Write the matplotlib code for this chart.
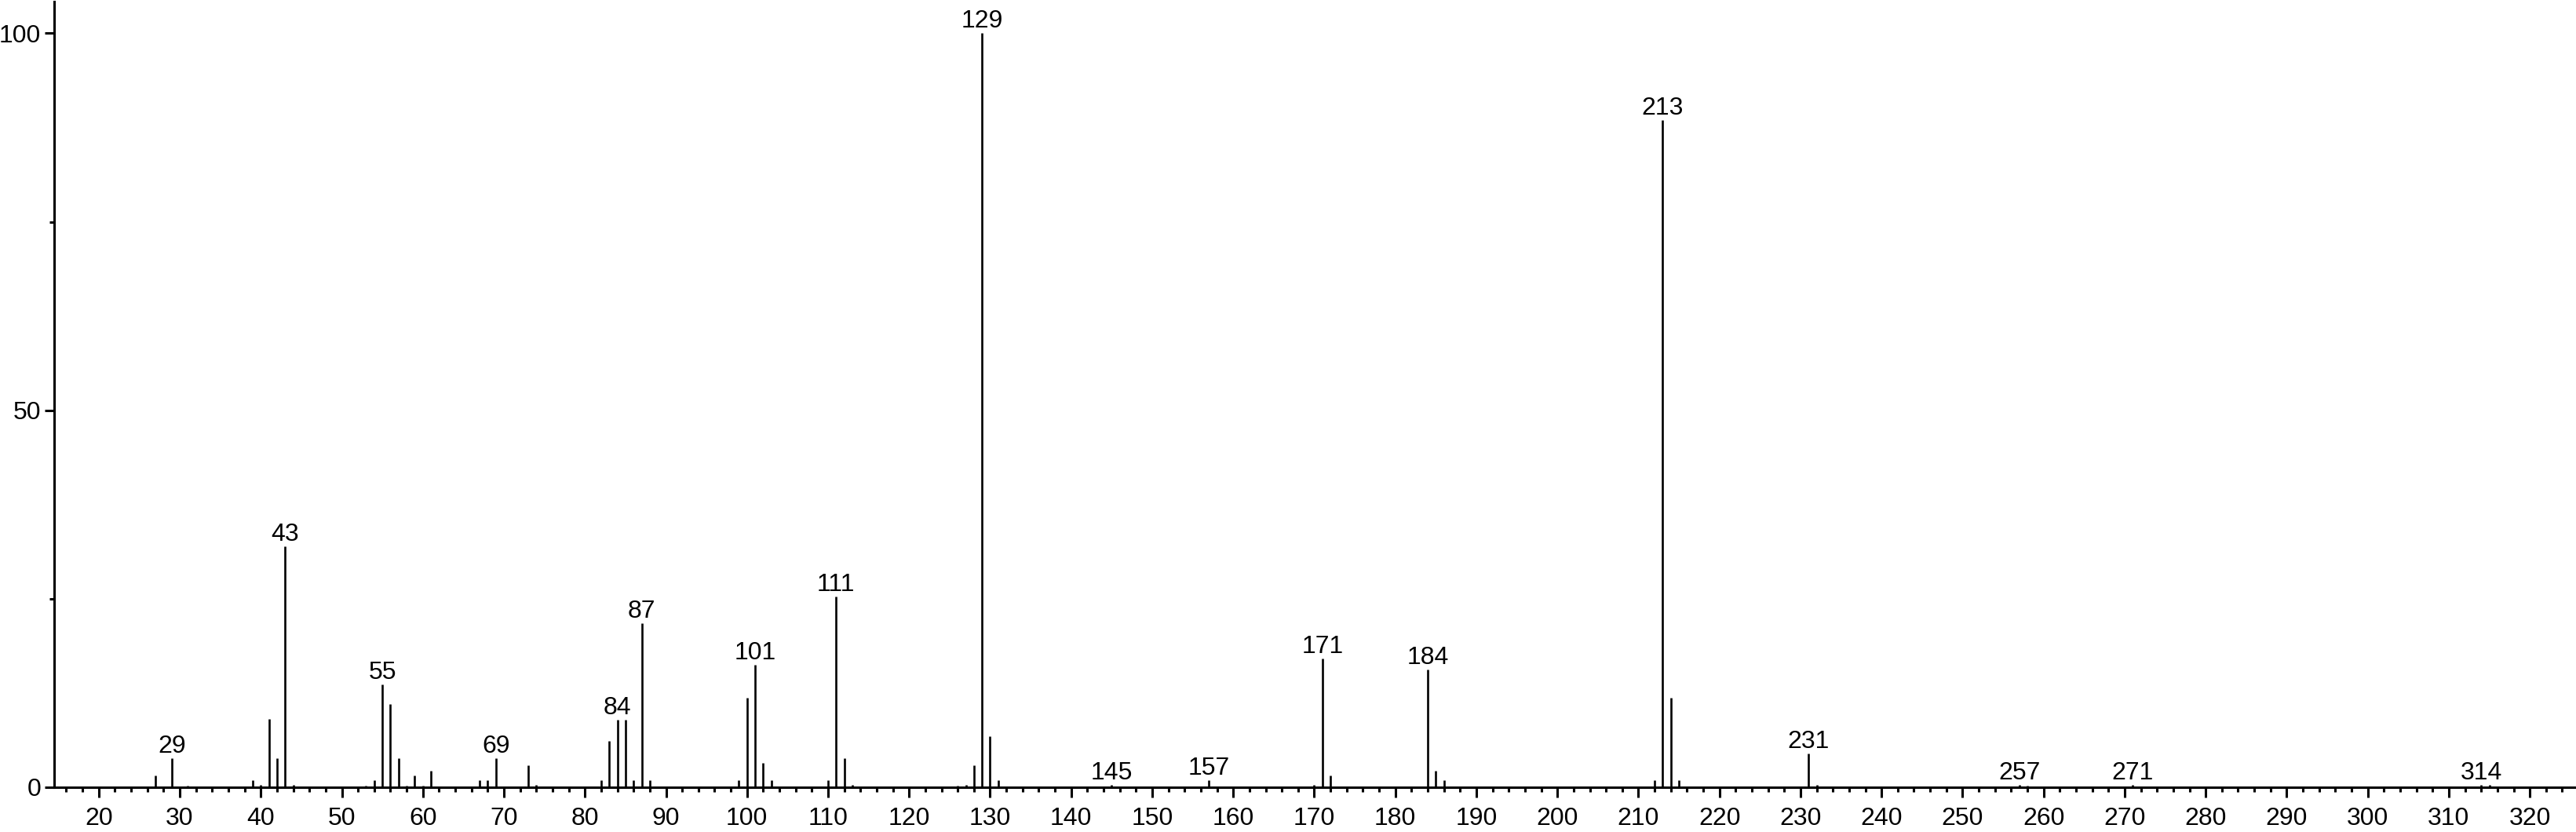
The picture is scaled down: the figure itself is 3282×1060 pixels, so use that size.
import matplotlib
matplotlib.use("Agg")
import matplotlib.pyplot as plt
from matplotlib.ticker import MultipleLocator

plt.rcParams["font.family"] = ["Liberation Sans", "DejaVu Sans"]

# m/z and relative intensity
mz = [27, 29, 31, 39, 40, 41, 42, 43, 44,
      53, 54, 55, 56, 57, 58, 59, 60, 61,
      67, 68, 69, 73, 74,
      82, 83, 84, 85, 86, 87, 88,
      99, 100, 101, 102, 103,
      110, 111, 112, 113,
      126, 127, 128, 129, 130, 131,
      145, 157, 170, 171, 172,
      184, 185, 186,
      212, 213, 214, 215,
      231, 232, 257, 258, 271, 314, 315]
intensity = [1.6, 3.8, 0.25, 0.9, 0.35, 9.1, 3.8, 32.0, 0.3,
             0.25, 0.9, 13.6, 11.0, 3.8, 0.25, 1.6, 0.25, 2.2,
             0.9, 0.9, 3.8, 2.9, 0.3,
             0.9, 6.1, 9.0, 9.0, 0.9, 21.8, 0.9,
             0.9, 11.9, 16.2, 3.2, 0.9,
             0.9, 25.3, 3.8, 0.3,
             0.25, 0.3, 2.9, 100.0, 6.8, 0.9,
             0.3, 0.9, 0.3, 17.1, 1.6,
             15.6, 2.2, 0.9,
             0.9, 88.5, 11.9, 0.9,
             4.5, 0.3, 0.3, 0.25, 0.3, 0.35, 0.3]

labelled = [29, 43, 55, 69, 84, 87, 101, 111, 129, 145, 157, 171, 184,
            213, 231, 257, 271, 314]

fig = plt.figure(figsize=(32.82, 10.60), dpi=100)
ax = fig.add_axes([69 / 3282, (1060 - 1003) / 1060, 1 - 69 / 3282, 1001 / 1060])

ax.vlines(mz, 0, intensity, color="black", linewidth=1.9)

lookup = dict(zip(mz, intensity))
for m in labelled:
    ax.annotate(str(m), (m, lookup[m]), xytext=(0, 0), textcoords="offset points",
                ha="center", va="bottom", fontsize=23)

ax.set_xlim(14.5, 325.7)
ax.set_ylim(0, 104.2)

ax.xaxis.set_major_locator(MultipleLocator(10))
ax.xaxis.set_minor_locator(MultipleLocator(2))
ax.yaxis.set_major_locator(MultipleLocator(50))
ax.yaxis.set_minor_locator(MultipleLocator(25))

ax.tick_params(axis="both", which="major", length=9, width=2.2, labelsize=23, direction="out")
ax.tick_params(axis="both", which="minor", length=4.5, width=2.2, direction="out")
ax.tick_params(axis="x", pad=9)
ax.tick_params(axis="y", pad=3)

for side in ("top", "right"):
    ax.spines[side].set_visible(False)
for side in ("left", "bottom"):
    ax.spines[side].set_linewidth(2.2)

fig.savefig("out.png", dpi=100)
